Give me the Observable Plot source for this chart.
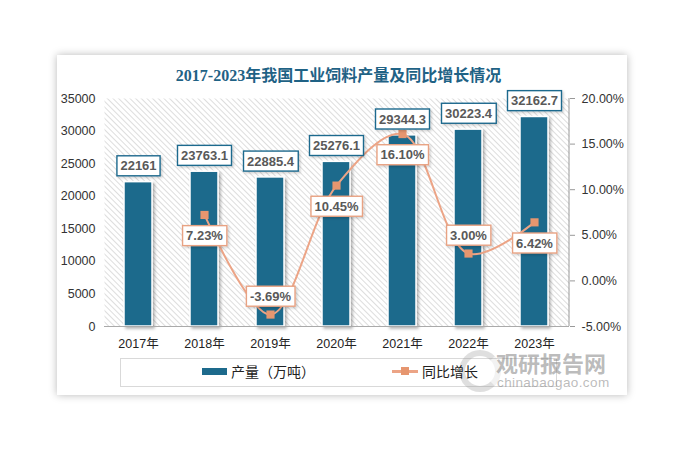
<!DOCTYPE html>
<html><head><meta charset="utf-8">
<script src="https://cdn.jsdelivr.net/npm/d3@7"></script>
<script src="https://cdn.jsdelivr.net/npm/@observablehq/plot@0.6"></script>
<style>
body{margin:0;background:#fff;width:677px;height:454px;position:relative;overflow:hidden;font-family:"Liberation Sans",Arial,sans-serif;}
#card{position:absolute;left:57px;top:55px;width:570px;height:340px;background:#fff;box-shadow:0 0 8px rgba(0,0,0,0.28);}
#title{position:absolute;left:0;width:677px;top:65px;text-align:center;font-weight:bold;font-size:16px;font-family:"Liberation Serif","Noto Sans CJK SC",serif;color:#1F6285;line-height:22px;}
#chart{position:absolute;left:0;top:88px;}
#legend{position:absolute;left:120px;top:358px;width:437px;height:29px;border:1px solid #d9d9d9;box-sizing:border-box;}
.lg{position:absolute;font-family:"Noto Sans CJK SC",sans-serif;font-size:14px;color:#222;line-height:18px;}
#wm1{position:absolute;left:496px;top:348px;font-family:"Noto Sans CJK SC",sans-serif;font-weight:bold;font-size:22px;color:rgba(130,130,130,0.55);line-height:28px;}
#wm2{position:absolute;left:497px;top:375px;font-family:"Liberation Sans",sans-serif;font-size:13.5px;color:rgba(130,130,130,0.55);line-height:16px;letter-spacing:0.4px;}
#logo{position:absolute;left:459px;top:350px;width:30px;height:30px;border-radius:50%;border:6px solid rgba(150,150,150,0.3);border-right-color:rgba(150,150,150,0.12);}
</style></head>
<body>
<div id="card"></div>
<div id="title">2017-2023年我国工业饲料产量及同比增长情况</div>
<div id="chart"></div>
<div id="legend"></div>
<div id="logo"></div>
<div id="wm1">观研报告网</div>
<div id="wm2">chinabaogao.com</div>
<script>
const years = ["2017年","2018年","2019年","2020年","2021年","2022年","2023年"];
const output = [22161, 23763.1, 22885.4, 25276.1, 29344.3, 30223.4, 32162.7];
const growth = [null, 7.23, -3.69, 10.45, 16.10, 3.00, 6.42];
const leftTicks = [0,5000,10000,15000,20000,25000,30000,35000];
const rightTicks = [-5,0,5,10,15,20];
const seriesNames = ["产量（万吨）","同比增长"];

const YMAX = 35000, PMIN = -5, PMAX = 20;
const toY = p => (p - PMIN) / (PMAX - PMIN) * YMAX;
const fromY = v => v / YMAX * (PMAX - PMIN) + PMIN;

const bars = years.map((year, i) => ({year, value: output[i]}));
const pts = years.map((year, i) => ({year, g: growth[i], yv: growth[i] == null ? null : toY(growth[i])}))
  .filter(d => d.g != null);
const isLocalMin = (d, i) => {
  const prev = pts[i-1], next = pts[i+1];
  return prev && next && d.g < prev.g && d.g < next.g;
};
const above = pts.filter((d,i) => isLocalMin(d,i));
const below = pts.filter((d,i) => !isLocalMin(d,i));

const BAR = "#1D6A8C", LINE = "#ECA486", MARK = "#E6966F";

const chart = Plot.plot({
  width: 677, height: 270,
  marginLeft: 104, marginRight: 108, marginTop: 10, marginBottom: 32,
  style: {fontFamily: "Liberation Sans, Arial, sans-serif", fontSize: "12.5px", color: "#333", background: "none", overflow: "visible"},
  x: {domain: years, paddingInner: 0.57, paddingOuter: 0.285, axis: null, label: null},
  y: {domain: [0, YMAX], axis: null, label: null},
  marks: [
    Plot.frame({fill: "url(#hatch)", stroke: "none"}),
    Plot.axisY(leftTicks, {anchor: "left", label: null, tickSize: 0, tickPadding: 9, tickFormat: d => String(d), fill: "#333"}),
    Plot.axisY(rightTicks.map(toY), {anchor: "right", label: null, tickSize: 5, tickPadding: 7, stroke: "#999", fill: "#333",
      tickFormat: d => (Math.round(fromY(d)*100)/100).toFixed(2) + "%"}),
    Plot.barY(bars, {x: "year", y: "value", fill: BAR, stroke: "#fff", strokeWidth: 1.5, className: "bars"}),
    Plot.ruleY([0], {stroke: "#aaa"}),
    Plot.axisX(years, {anchor: "bottom", label: null, tickSize: 0, tickPadding: 13, fontFamily: "Liberation Sans, Noto Sans CJK SC, sans-serif", fontSize: 12.5, fill: "#222"}),
    Plot.line(pts, {x: "year", y: "yv", curve: "catmull-rom", stroke: LINE, strokeWidth: 2}),
    Plot.dot(pts, {x: "year", y: "yv", symbol: "square", r: 4.6, fill: MARK, stroke: "none"}),
    Plot.text(bars, {x: "year", y: "value", text: d => String(d.value), dy: -16, fontWeight: "bold", fontSize: 13, fill: "#595959", className: "barlab"}),
    Plot.text(below, {x: "year", y: "yv", text: d => d.g.toFixed(2) + "%", dy: 21, fontWeight: "bold", fontSize: 13, fill: "#595959", className: "pctlab"}),
    Plot.text(above, {x: "year", y: "yv", text: d => d.g.toFixed(2) + "%", dy: -18, fontWeight: "bold", fontSize: 13, fill: "#595959", className: "pctlab"})
  ]
});

document.getElementById("chart").appendChild(chart);
const ns = "http://www.w3.org/2000/svg";
const defs = document.createElementNS(ns, "defs");
defs.innerHTML = `
<pattern id="hatch" patternUnits="userSpaceOnUse" width="4" height="4" patternTransform="rotate(-45)">
  <rect width="4" height="4" fill="#ffffff"/>
  <line x1="0" y1="0" x2="0" y2="4" stroke="#cfcfcf" stroke-width="1.4"/>
</pattern>
<filter id="shadow" x="-30%" y="-10%" width="160%" height="130%">
  <feDropShadow dx="2" dy="2" stdDeviation="1.6" flood-color="#000" flood-opacity="0.3"/>
</filter>
<filter id="shadow2" x="-20%" y="-30%" width="140%" height="160%">
  <feDropShadow dx="1.5" dy="1.5" stdDeviation="1.2" flood-color="#000" flood-opacity="0.18"/>
</filter>`;
chart.insertBefore(defs, chart.firstChild);
const barG = chart.querySelector("g.bars");
if (barG) barG.setAttribute("filter", "url(#shadow)");

// right axis line
const yScale = chart.scale("y");
const axLine = document.createElementNS(ns, "line");
const xr = 677 - 108;
axLine.setAttribute("x1", xr); axLine.setAttribute("x2", xr);
axLine.setAttribute("y1", yScale.apply(YMAX)); axLine.setAttribute("y2", yScale.apply(0));
axLine.setAttribute("stroke", "#999");
chart.appendChild(axLine);

function boxes(sel, color) {
  chart.querySelectorAll(sel + " text").forEach(t => {
    const b = t.getBBox();
    const r = document.createElementNS(ns, "rect");
    r.setAttribute("x", b.x - 3.5); r.setAttribute("y", b.y - 2.5);
    r.setAttribute("width", b.width + 7); r.setAttribute("height", b.height + 5);
    r.setAttribute("fill", "#fff"); r.setAttribute("stroke", color); r.setAttribute("stroke-width", 1.4);
    r.setAttribute("filter", "url(#shadow2)");
    if (t.getAttribute("transform")) r.setAttribute("transform", t.getAttribute("transform"));
    t.parentNode.insertBefore(r, t);
  });
}
boxes("g.barlab", "#1F6A8E");
boxes("g.pctlab", "#E8A283");

// legend
const page = document.body;
function add(html, style) {
  const d = document.createElement("div");
  d.innerHTML = html; d.style.position = "absolute";
  Object.assign(d.style, style); page.appendChild(d); return d;
}
add("", {left: "202px", top: "368px", width: "25px", height: "7px", background: BAR});
const l1 = add(seriesNames[0], {left: "231px", top: "362px"}); l1.className = "lg";
add("", {left: "392px", top: "370px", width: "26px", height: "2.5px", background: LINE});
add("", {left: "401px", top: "367px", width: "8px", height: "8px", background: MARK});
const l2 = add(seriesNames[1], {left: "422px", top: "362px"}); l2.className = "lg";
</script>
</body></html>
